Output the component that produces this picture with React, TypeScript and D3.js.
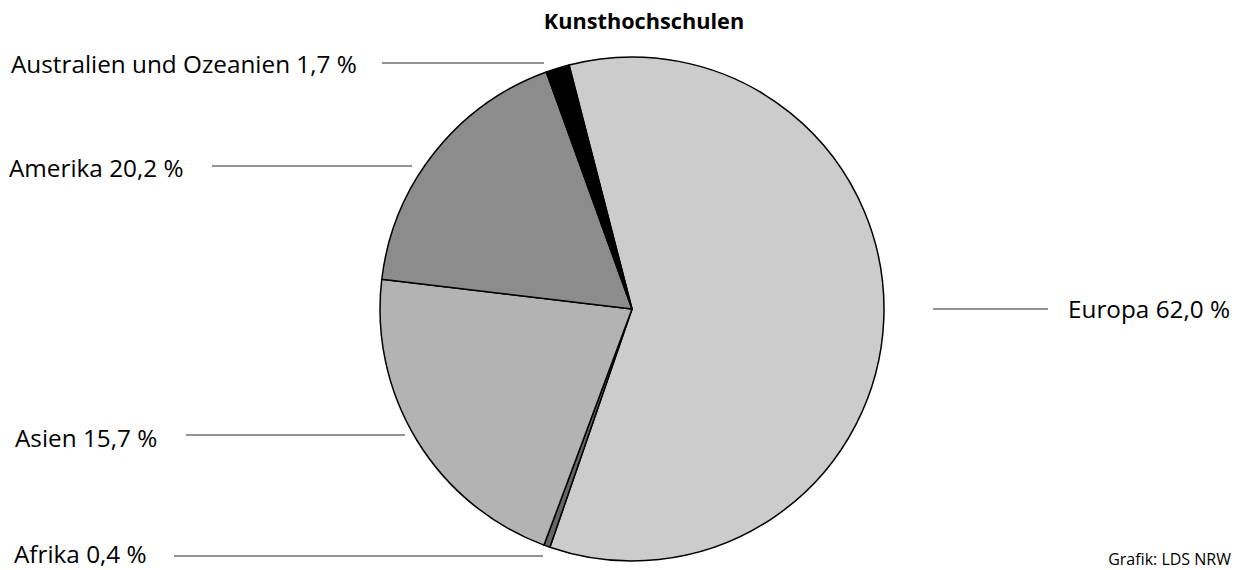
import { arc, pie } from 'd3'
import type { PieArcDatum } from 'd3'

// Regions in drawing order (clockwise from the top)
const regions = ['Europa', 'Afrika', 'Asien', 'Amerika', 'Australien und Ozeanien']
// Percentages printed in the labels
const labelShares = [62.0, 0.4, 15.7, 20.2, 1.7]
// Slice sizes as drawn in the picture (per cent of the circle)
const sliceShares = [59.3, 0.4, 21.2, 17.6, 1.5]
const fills = ['#cccccc', '#666666', '#b3b3b3', '#8c8c8c', '#000000']

const title = 'Kunsthochschulen'
const credit = 'Grafik: LDS NRW'

const width = 1245
const height = 570
const cx = 632
const cy = 309
const radius = 252
const startAngle = (-14.47 * Math.PI) / 180
const font = '"Open Sans", "Noto Sans", sans-serif'

// label layout: text anchor and leader line per region
const labelLayout = [
  { tx: 1068, ty: 318, x1: 933, x2: 1048, y: 309 },
  { tx: 14, ty: 563, x1: 174, x2: 543, y: 556 },
  { tx: 15, ty: 447, x1: 186, x2: 405, y: 435 },
  { tx: 9, ty: 177, x1: 212, x2: 412, y: 166 },
  { tx: 11, ty: 73, x1: 382, x2: 544, y: 63 },
]

interface Slice {
  region: string
  share: number
  label: number
  fill: string
}

const slices: Slice[] = regions.map((region, i) => ({
  region,
  share: sliceShares[i],
  label: labelShares[i],
  fill: fills[i],
}))

const fmt = (v: number) => v.toFixed(1).replace('.', ',') + ' %'

const App = () => {
  const arcs = pie<Slice>()
    .value((d) => d.share)
    .sort(null)
    .startAngle(startAngle)
    .endAngle(startAngle + 2 * Math.PI)(slices)

  const arcPath = arc<PieArcDatum<Slice>>().innerRadius(0).outerRadius(radius)

  return (
    <div style={{ position: 'absolute', left: 0, top: 0 }}>
      <svg width={width} height={height} viewBox={`0 0 ${width} ${height}`} style={{ display: 'block', background: 'white' }}>
        <text x={644} y={29} textAnchor="middle" fontFamily={font} fontWeight={700} fontSize={21.7}>
          {title}
        </text>

        <g transform={`translate(${cx}, ${cy})`}>
          {arcs.map((a) => (
            <path
              key={a.data.region}
              d={arcPath(a) ?? ''}
              fill={a.data.fill}
              stroke="#000"
              strokeWidth={1.5}
              strokeLinejoin="round"
            />
          ))}
        </g>

        {slices.map((s, i) => {
          const l = labelLayout[i]
          return (
            <g key={s.region}>
              <line x1={l.x1} x2={l.x2} y1={l.y} y2={l.y} stroke="#2a2a2a" strokeWidth={1.2} />
              <text x={l.tx} y={l.ty} fontFamily={font} fontSize={24.3} fill="#000">
                {`${s.region} ${fmt(s.label)}`}
              </text>
            </g>
          )
        })}

        <text x={1231} y={565} textAnchor="end" fontFamily={font} fontSize={16} fill="#000">
          {credit}
        </text>
      </svg>
    </div>
  )
}

export default App
